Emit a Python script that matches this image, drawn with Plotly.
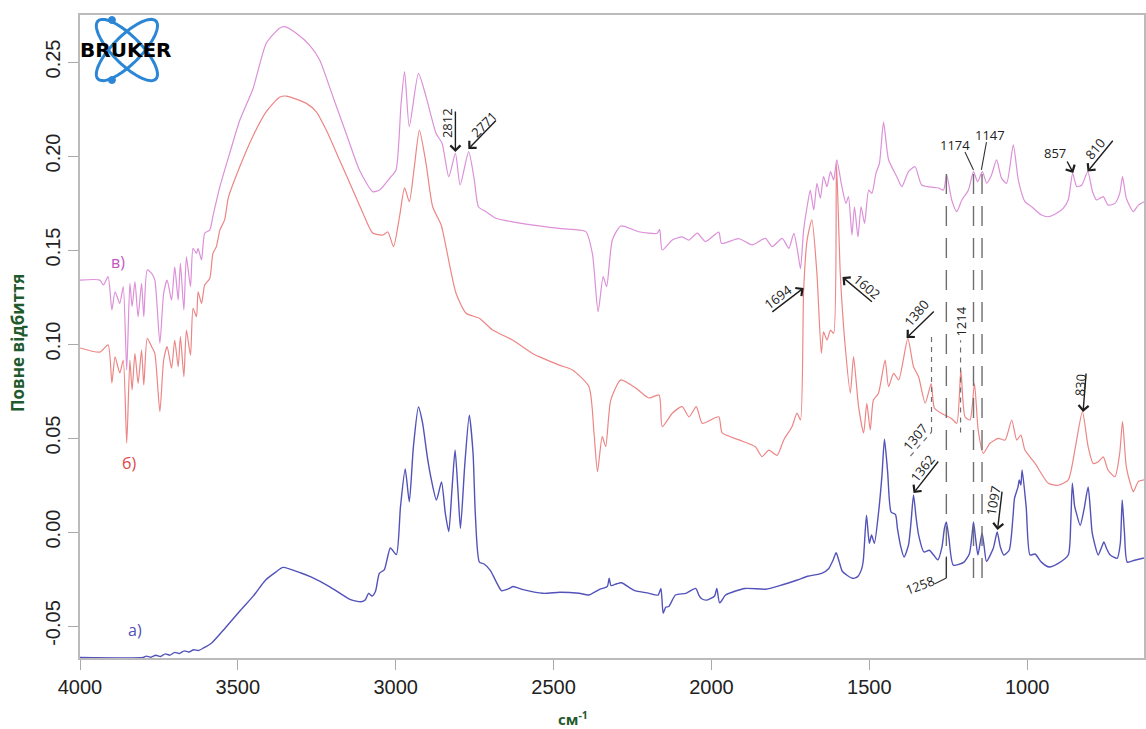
import numpy as np
import plotly.graph_objects as go

# ---------------- data (wavenumber, cm-1 / total reflectance) ----------------
wn_a = [4000, 3800, 3790, 3775, 3760, 3745, 3730, 3715, 3700, 3685, 3670, 3655, 3640, 3625, 3610, 3583, 3540, 3491,
        3450, 3412, 3380, 3357, 3300, 3267, 3210, 3143, 3110, 3096, 3086, 3075, 3064, 3052, 3036, 3017, 2998, 2985,
        2970, 2957, 2944, 2928, 2915, 2900, 2887, 2871, 2855, 2843, 2832, 2822, 2812, 2803, 2795, 2781, 2767, 2755,
        2748, 2735, 2720, 2700, 2680, 2665, 2640, 2628, 2600, 2533, 2480, 2419, 2388, 2353, 2330, 2324, 2318, 2300,
        2285, 2245, 2200, 2169, 2160, 2153, 2145, 2135, 2114, 2081, 2050, 2040, 2031, 2015, 1990, 1983, 1974, 1955,
        1894, 1828, 1784, 1728, 1695, 1651, 1629, 1615, 1605, 1595, 1585, 1553, 1537, 1525, 1519, 1509, 1500, 1493,
        1484, 1471, 1460, 1452, 1442, 1431, 1417, 1411, 1400, 1390, 1376, 1368, 1360, 1352, 1344, 1327, 1310, 1295,
        1283, 1270, 1262, 1256, 1248, 1234, 1200, 1183, 1175, 1170, 1163, 1156, 1143, 1136, 1129, 1107, 1095, 1085,
        1074, 1057, 1045, 1040, 1029, 1025, 1020, 1016, 1003, 991, 975, 955, 930, 903, 870, 862, 857, 850, 845, 832,
        820, 807, 800, 794, 775, 764, 757, 748, 737, 715, 705, 699, 692, 683, 660, 630]
abs_a = [-0.0667, -0.0667, -0.0660, -0.0666, -0.0655, -0.0662, -0.0648, -0.0655, -0.0640, -0.0646, -0.0632, -0.0638,
         -0.0626, -0.0630, -0.0618, -0.0590, -0.0510, -0.0415, -0.0338, -0.0255, -0.0213, -0.0188, -0.0218, -0.0240,
         -0.0290, -0.0360, -0.0371, -0.0360, -0.0326, -0.0340, -0.0315, -0.0220, -0.0200, -0.0085, -0.0120, 0.0133,
         0.0335, 0.0161, 0.0454, 0.0665, 0.0580, 0.0400, 0.0277, 0.0170, 0.0266, 0.0100, 0.0002, 0.0223, 0.0436,
         0.0223, 0.0020, 0.0365, 0.0622, 0.0418, 0.0100, -0.0160, -0.0170, -0.0205, -0.0270, -0.0312, -0.0300,
         -0.0290, -0.0305, -0.0326, -0.0320, -0.0326, -0.0335, -0.0304, -0.0290, -0.0246, -0.0285, -0.0275, -0.0270,
         -0.0310, -0.0325, -0.0335, -0.0300, -0.0432, -0.0400, -0.0396, -0.0335, -0.0326, -0.0300, -0.0335, -0.0355,
         -0.0362, -0.0340, -0.0300, -0.0377, -0.0335, -0.0300, -0.0304, -0.0285, -0.0255, -0.0235, -0.0220, -0.0195,
         -0.0150, -0.0110, -0.0160, -0.0210, -0.0246, -0.0237, -0.0200, -0.0150, 0.0090, -0.0060, -0.0016, -0.0060,
         0.0100, 0.0300, 0.0494, 0.0320, 0.0106, 0.0093, 0.0020, -0.0080, -0.0133, -0.0070, 0.0050, 0.0197, 0.0080,
         -0.0015, -0.0106, -0.0097, -0.0125, -0.0148, -0.0080, 0.0020, 0.0053, -0.0030, -0.0176, -0.0160, -0.0115,
         -0.0020, 0.0053, -0.0040, -0.0122, -0.0005, -0.0080, -0.0156, -0.0085, 0.0000, -0.0080, -0.0122, -0.0097,
         0.0080, 0.0180, 0.0240, 0.0277, 0.0250, 0.0330, 0.0130, -0.0122, -0.0117, -0.0160, -0.0186, -0.0168,
         -0.0122, 0.0050, 0.0260, 0.0140, 0.0106, 0.0035, 0.0120, 0.0240, 0.0120, -0.0005, -0.0122, -0.0080,
         -0.0053, -0.0090, -0.0122, -0.0140, -0.0060, 0.0170, 0.0000, -0.0160, -0.0150, -0.0138]

wn_b = [4000, 3937, 3911, 3899, 3889, 3874, 3863, 3852, 3842, 3835, 3826, 3816, 3805, 3798, 3787, 3773, 3763, 3747,
        3735, 3724, 3710, 3700, 3689, 3682, 3671, 3663, 3650, 3642, 3631, 3626, 3615, 3605, 3589, 3579, 3568, 3557,
        3542, 3530, 3494, 3453, 3410, 3368, 3347, 3283, 3252, 3220, 3178, 3136, 3104, 3073, 3041, 3025, 3007, 2988,
        2972, 2957, 2941, 2925, 2904, 2883, 2856, 2841, 2809, 2777, 2735, 2693, 2630, 2567, 2546, 2482, 2440, 2388,
        2372, 2361, 2346, 2335, 2319, 2287, 2240, 2198, 2166, 2156, 2124, 2093, 2071, 2048, 2029, 1977, 1966, 1913,
        1861, 1840, 1818, 1792, 1771, 1745, 1729, 1718, 1708, 1697, 1682, 1666, 1652, 1645, 1634, 1623, 1613, 1604,
        1592, 1578, 1560, 1550, 1534, 1518, 1508, 1497, 1487, 1471, 1450, 1439, 1423, 1407, 1378, 1360, 1344, 1323,
        1304, 1294, 1271, 1239, 1223, 1210, 1197, 1181, 1167, 1155, 1139, 1118, 1091, 1070, 1049, 1033, 1020, 1007,
        975, 933, 902, 870, 849, 825, 807, 791, 775, 759, 744, 722, 707, 698, 686, 670, 664, 648, 630]
abs_b = [0.0979, 0.0957, 0.0995, 0.0793, 0.0932, 0.0846, 0.0915, 0.0473, 0.0915, 0.0755, 0.0950, 0.0791, 0.0968,
         0.0782, 0.1030, 0.0986, 0.0950, 0.0640, 0.0915, 0.0986, 0.0871, 0.1021, 0.0879, 0.1039, 0.0826, 0.1074,
         0.0941, 0.1190, 0.1145, 0.1278, 0.1216, 0.1314, 0.1349, 0.1482, 0.1518, 0.1606, 0.1660, 0.1780, 0.1943,
         0.2103, 0.2236, 0.2312, 0.2319, 0.2280, 0.2236, 0.2138, 0.1979, 0.1819, 0.1697, 0.1590, 0.1580, 0.1596,
         0.1518, 0.1677, 0.1830, 0.1757, 0.1943, 0.2138, 0.1960, 0.1730, 0.1633, 0.1518, 0.1270, 0.1164, 0.1137,
         0.1074, 0.1021, 0.0950, 0.0933, 0.0888, 0.0862, 0.0773, 0.0527, 0.0321, 0.0507, 0.0454, 0.0702, 0.0809,
         0.0766, 0.0713, 0.0729, 0.0560, 0.0632, 0.0667, 0.0613, 0.0667, 0.0578, 0.0613, 0.0527, 0.0490, 0.0454,
         0.0401, 0.0436, 0.0408, 0.0490, 0.0560, 0.0632, 0.0596, 0.1287, 0.1553, 0.1660, 0.1376, 0.0950, 0.1065,
         0.1021, 0.1074, 0.1057, 0.1960, 0.1376, 0.1020, 0.0739, 0.0933, 0.0667, 0.0527, 0.0684, 0.0543, 0.0702,
         0.0738, 0.0915, 0.0773, 0.0844, 0.0809, 0.1030, 0.0879, 0.0826, 0.0686, 0.0790, 0.0660, 0.0631, 0.0603,
         0.0578, 0.0860, 0.0613, 0.0596, 0.0790, 0.0540, 0.0418, 0.0472, 0.0498, 0.0489, 0.0596, 0.0489, 0.0516,
         0.0436, 0.0365, 0.0259, 0.0249, 0.0277, 0.0436, 0.0640, 0.0454, 0.0365, 0.0374, 0.0400, 0.0330, 0.0294,
         0.0418, 0.0587, 0.0347, 0.0240, 0.0214, 0.0268, 0.0277]

wn_c = [4000, 3937, 3926, 3911, 3899, 3889, 3874, 3863, 3852, 3842, 3835, 3826, 3816, 3805, 3798, 3787, 3773, 3763,
        3747, 3735, 3724, 3710, 3700, 3689, 3682, 3671, 3663, 3650, 3642, 3631, 3626, 3615, 3605, 3589, 3579, 3557,
        3526, 3494, 3452, 3410, 3368, 3352, 3315, 3273, 3241, 3199, 3157, 3115, 3073, 3051, 3015, 2999, 2983, 2972,
        2957, 2928, 2904, 2872, 2853, 2832, 2811, 2796, 2769, 2751, 2738, 2714, 2683, 2630, 2546, 2482, 2440, 2398,
        2377, 2359, 2343, 2332, 2314, 2287, 2230, 2172, 2164, 2156, 2124, 2093, 2071, 2045, 2019, 1977, 1968, 1913,
        1871, 1829, 1808, 1776, 1755, 1739, 1726, 1718, 1708, 1697, 1687, 1676, 1666, 1655, 1645, 1634, 1623, 1613,
        1603, 1587, 1574, 1566, 1555, 1547, 1536, 1526, 1515, 1502, 1492, 1479, 1468, 1455, 1439, 1413, 1397, 1376,
        1355, 1334, 1281, 1265, 1255, 1239, 1223, 1207, 1186, 1170, 1157, 1142, 1128, 1113, 1097, 1081, 1065, 1044,
        1028, 1007, 986, 955, 933, 907, 886, 870, 856, 843, 827, 808, 793, 780, 759, 744, 722, 707, 698, 686, 664,
        648, 630]
abs_c = [0.1340, 0.1340, 0.1314, 0.1358, 0.1181, 0.1278, 0.1216, 0.1305, 0.0862, 0.1323, 0.1199, 0.1332, 0.1145,
         0.1323, 0.1145, 0.1394, 0.1376, 0.1340, 0.1004, 0.1270, 0.1340, 0.1234, 0.1411, 0.1234, 0.1429, 0.1181,
         0.1464, 0.1305, 0.1509, 0.1482, 0.1509, 0.1447, 0.1589, 0.1606, 0.1680, 0.1837, 0.2014, 0.2190, 0.2358,
         0.2600, 0.2680, 0.2688, 0.2653, 0.2590, 0.2511, 0.2316, 0.2120, 0.1926, 0.1810, 0.1819, 0.1890, 0.1926,
         0.2280, 0.2449, 0.2156, 0.2440, 0.2316, 0.2120, 0.2067, 0.1890, 0.2014, 0.1846, 0.2023, 0.1872, 0.1730,
         0.1704, 0.1669, 0.1650, 0.1628, 0.1615, 0.1610, 0.1598, 0.1480, 0.1172, 0.1358, 0.1305, 0.1553, 0.1628,
         0.1597, 0.1589, 0.1610, 0.1500, 0.1553, 0.1570, 0.1553, 0.1590, 0.1545, 0.1595, 0.1535, 0.1560, 0.1527,
         0.1562, 0.1518, 0.1562, 0.1509, 0.1589, 0.1482, 0.1400, 0.1607, 0.1730, 0.1819, 0.1713, 0.1855, 0.1775,
         0.1890, 0.1837, 0.1917, 0.1872, 0.1979, 0.1837, 0.1748, 0.1784, 0.1580, 0.1730, 0.1570, 0.1730, 0.1642,
         0.1819, 0.1801, 0.1908, 0.1961, 0.2180, 0.1980, 0.1890, 0.1837, 0.1917, 0.1943, 0.1846, 0.1830, 0.1819,
         0.1900, 0.1766, 0.1704, 0.1766, 0.1819, 0.1917, 0.1863, 0.1917, 0.1855, 0.1899, 0.1979, 0.1881, 0.1855,
         0.2059, 0.1872, 0.1757, 0.1730, 0.1686, 0.1677, 0.1695, 0.1722, 0.1766, 0.1908, 0.1837, 0.1846, 0.1917,
         0.1810, 0.1766, 0.1784, 0.1739, 0.1748, 0.1801, 0.1890, 0.1775, 0.1704, 0.1739, 0.1757]

x_ticks = [1000, 1500, 2000, 2500, 3000, 3500, 4000]
y_ticks = [-0.05, 0.00, 0.05, 0.10, 0.15, 0.20, 0.25]
y_tick_text = ["-0.05", "0.00", "0.05", "0.10", "0.15", "0.20", "0.25"]

# peak marker arrows: (tip wn, tip value, tail wn, tail value)
arrows = [
    (2811, 0.2021, 2811, 0.2245),
    (2770, 0.2037, 2678, 0.2197),
    (1708, 0.1298, 1812, 0.1165),
    (1585, 0.1356, 1487, 0.1218),
    (1382, 0.1032, 1291, 0.1181),
    (854, 0.1910, 876, 0.1979),
    (809, 0.1917, 725, 0.2089),
    (823, 0.0638, 813, 0.0851),
    (1360, 0.0207, 1278, 0.0383),
    (1094, 0.0011, 1079, 0.0223),
]
# peak labels: (text, wn, value, angle)
peak_labels = [
    ("2812", 2837, 0.2176, -90), ("2771", 2720, 0.2170, -45), ("1694", 1790, 0.1250, -37),
    ("1602", 1506, 0.1303, 40), ("1380", 1350, 0.1163, -50), ("1214", 1211, 0.1117, -90),
    ("1174", 1228, 0.2059, 0), ("1147", 1118, 0.2112, 0), ("857", 912, 0.2018, 0),
    ("810", 786, 0.2037, -50), ("830", 832, 0.0782, -86), ("1307", 1355, 0.0507, -50),
    ("1362", 1332, 0.0343, -52), ("1258", 1338, -0.0282, -20), ("1097", 1107, 0.0170, -80),
]
# series labels
series_labels = [("а)", 3826, -0.0521, "#5050b8"), ("б)", 3842, 0.0367, "#e04a4a"), ("в)", 3880, 0.1436, "#c456c4")]

# ---------------- figure ----------------
X0, X1 = 4000, 630
Y0, Y1 = -0.067, 0.275
L, T, W, H = 80, 15, 1066, 643

fig = go.Figure()
fig.add_trace(go.Scatter(x=wn_b, y=abs_b, mode="lines",
                         line=dict(color="#ec8686", width=1.2, shape="spline", smoothing=0.6), hoverinfo="skip"))
fig.add_trace(go.Scatter(x=wn_c, y=abs_c, mode="lines",
                         line=dict(color="#dc90d8", width=1.2, shape="spline", smoothing=0.6), hoverinfo="skip"))
fig.add_trace(go.Scatter(x=wn_a, y=abs_a, mode="lines",
                         line=dict(color="#5252ba", width=1.4, shape="spline", smoothing=0.6), hoverinfo="skip"))

ann = []
for tx, ty, sx, sy in arrows:
    ann.append(dict(x=tx, y=ty, ax=sx, ay=sy, xref="x", yref="y", axref="x", ayref="y", text="",
                    showarrow=True, arrowhead=4, arrowsize=1.4, arrowwidth=1.4, arrowcolor="#1e1e1e", standoff=0))
for t, x, y, ang in peak_labels:
    ann.append(dict(x=x, y=y, xref="x", yref="y", text=t, showarrow=False, textangle=ang,
                    font=dict(family="Open Sans", size=13, color="#222222"), xanchor="center", yanchor="middle"))
for t, x, y, c in series_labels:
    ann.append(dict(x=x, y=y, xref="x", yref="y", text=t, showarrow=False,
                    font=dict(family="Open Sans", size=16, color=c), xanchor="center", yanchor="middle"))

# axis titles
ann.append(dict(x=(18 - L) / W, y=(T + H - 343) / H, xref="paper", yref="paper", text="<b>Повне відбиття</b>",
                showarrow=False, textangle=-90, xanchor="center", yanchor="middle",
                font=dict(family="Open Sans", size=17, color="#1f5a2e")))
ann.append(dict(x=(574 - L) / W, y=(T + H - 718) / H, xref="paper", yref="paper", text="<b>см<sup>-1</sup></b>",
                showarrow=False, xanchor="center", yanchor="middle",
                font=dict(family="Open Sans", size=15, color="#1f5a2e")))

# Bruker logo
def to_paper(px, py):
    return (px - L) / W, (T + H - py) / H

shapes = []
cx, cy, a, b = 127, 50, 41, 14
t = np.linspace(0, 2 * np.pi, 80)
for sgn in (1, -1):
    u = np.array([0.7071, sgn * 0.7071])
    v = np.array([-sgn * 0.7071, 0.7071])
    pts = [(cx + a * np.cos(s) * u[0] + b * np.sin(s) * v[0], cy + a * np.cos(s) * u[1] + b * np.sin(s) * v[1]) for s in t]
    path = "M " + " L ".join("%.5f,%.5f" % to_paper(px, py) for px, py in pts) + " Z"
    shapes.append(dict(type="path", path=path, xref="paper", yref="paper", line=dict(color="#2b86d6", width=3)))
for dx, dy in [(112, 20), (112, 80)]:
    x0, y0 = to_paper(dx - 3.5, dy - 3.5)
    x1, y1 = to_paper(dx + 3.5, dy + 3.5)
    shapes.append(dict(type="circle", xref="paper", yref="paper", x0=x0, y0=y0, x1=x1, y1=y1,
                       fillcolor="#2b86d6", line=dict(color="#2b86d6", width=1)))
ann.append(dict(x=to_paper(126, 50)[0], y=to_paper(126, 50)[1], xref="paper", yref="paper", text="<b>BRUKER</b>",
                showarrow=False, xanchor="center", yanchor="middle",
                font=dict(family="DejaVu Sans", size=20, color="#000000")))

# dashed marker lines
long_dash = "20px,12px"
short_dash = "5px,5px"
for xv in (1256, 1170, 1143):
    shapes.append(dict(type="line", xref="x", yref="y", x0=xv, x1=xv, y0=-0.0245, y1=0.1926,
                       line=dict(color="#6e6e6e", width=1.4, dash=long_dash)))
shapes.append(dict(type="line", xref="x", yref="y", x0=1211, x1=1211, y0=0.053, y1=0.102,
                   line=dict(color="#6e6e6e", width=1.2, dash=short_dash)))
shapes.append(dict(type="line", xref="x", yref="y", x0=1303, x1=1303, y0=0.0532, y1=0.1059,
                   line=dict(color="#6e6e6e", width=1.2, dash=short_dash)))
shapes.append(dict(type="line", xref="x", yref="y", x0=1370, x1=1303, y0=0.0404, y1=0.0532,
                   line=dict(color="#6e6e6e", width=1.2, dash=short_dash)))
# solid leaders
for x0, y0, x1, y1 in [(1197, 0.2021, 1170, 0.1926), (1129, 0.2074, 1145, 0.1926),
                       (1294, -0.0277, 1256, -0.0245), (1256, -0.0245, 1256, -0.0130)]:
    shapes.append(dict(type="line", xref="x", yref="y", x0=x0, x1=x1, y0=y0, y1=y1,
                       line=dict(color="#333333", width=1.1)))

tickfont = dict(family="Liberation Sans, Arial", size=20, color="#222222")
fig.update_layout(
    width=1146, height=729, margin=dict(l=L, r=0, t=T, b=729 - T - H),
    paper_bgcolor="white", plot_bgcolor="white", showlegend=False,
    annotations=ann, shapes=shapes,
    xaxis=dict(range=[X0, X1], tickvals=x_ticks, ticks="outside", ticklen=10, tickcolor="#aaaaaa", tickwidth=1.3,
               showline=True, linecolor="#bbbbbb", linewidth=1.5, mirror=True, showgrid=False, zeroline=False,
               tickfont=tickfont),
    yaxis=dict(range=[Y0, Y1], tickvals=y_ticks, ticktext=y_tick_text, ticks="outside", ticklen=10,
               tickcolor="#aaaaaa", tickwidth=1.3, tickangle=-90, showline=True, linecolor="#bbbbbb", linewidth=1.5,
               mirror=True, showgrid=False, zeroline=False, tickfont=tickfont),
)
fig.write_html("out.html")
